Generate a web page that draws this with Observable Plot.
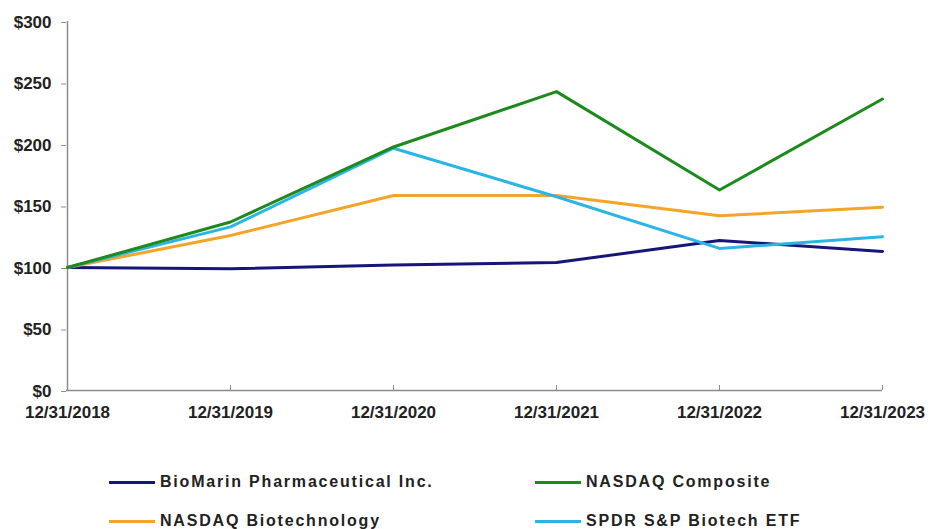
<!DOCTYPE html>
<html>
<head>
<meta charset="utf-8">
<script src="https://cdn.jsdelivr.net/npm/d3@7"></script>
<script src="https://cdn.jsdelivr.net/npm/@observablehq/plot@0.6"></script>
<style>
  html, body { margin: 0; padding: 0; background: #fff; }
  body { width: 930px; height: 529px; overflow: hidden; font-family: "Liberation Sans", Arial, sans-serif; position: relative; }
  #chart svg { display: block; }
  .legend { position: absolute; left: 0; top: 0; width: 930px; }
  .item { position: absolute; display: flex; align-items: center; font-weight: bold; font-size: 16px; letter-spacing: 1.8px; color: #222; white-space: nowrap; }
  .sw { width: 46px; height: 3px; margin-right: 5px; }
</style>
</head>
<body>
<div id="chart"></div>
<div class="legend" id="legend"></div>
<script>
const dates = ["12/31/2018", "12/31/2019", "12/31/2020", "12/31/2021", "12/31/2022", "12/31/2023"];
const seriesNames = ["BioMarin Pharmaceutical Inc.", "NASDAQ Composite", "NASDAQ Biotechnology", "SPDR S&P Biotech ETF"];
const colors = ["#16167a", "#1c8a1c", "#f5a42a", "#2bb5e6"];
const biomarin = [100, 99, 102, 104, 122, 113];
const nasdaqComposite = [100, 137, 198, 243, 163, 237];
const nasdaqBiotech = [100, 126, 158.5, 158.5, 142, 149];
const spdrBiotech = [100, 133, 197, 157.5, 115.5, 125];
const yTicks = [0, 50, 100, 150, 200, 250, 300];

const allValues = [biomarin, nasdaqComposite, nasdaqBiotech, spdrBiotech];
const drawOrder = [0, 2, 3, 1];
const data = [];
drawOrder.forEach(i => {
  dates.forEach((d, j) => data.push({date: d, value: allValues[i][j], series: seriesNames[i]}));
});

const chart = Plot.plot({
  width: 930,
  height: 430,
  marginLeft: 66,
  marginRight: 48,
  marginTop: 21,
  marginBottom: 40,
  style: {fontFamily: "'Liberation Sans', Arial, sans-serif", fontSize: "17px", fontWeight: "bold", color: "#222", background: "#fff", overflow: "visible"},
  x: {type: "point", domain: dates, padding: 0},
  y: {domain: [0, 300]},
  color: {domain: seriesNames, range: colors},
  marks: [
    Plot.ruleY([0], {stroke: "#8c8c8c", strokeWidth: 1.5}),
    Plot.ruleX([dates[0]], {stroke: "#8c8c8c", strokeWidth: 1.5}),
    Plot.axisY({ticks: yTicks, tickSize: 5, stroke: "#8c8c8c", tickFormat: d => "$" + d, tickPadding: 10, label: null, fill: "#222", fontWeight: "bold", dy: 1}),
    Plot.axisX({tickSize: 5, dy: -5, stroke: "#8c8c8c", text: null, label: null}),
    Plot.axisX({tickSize: 0, tickPadding: 15, label: null, fill: "#222", fontWeight: "bold"}),
    Plot.line(data, {x: "date", y: "value", z: "series", stroke: "series", strokeWidth: 3})
  ]
});
document.getElementById("chart").appendChild(chart);

const legend = document.getElementById("legend");
const pos = [[109, 482], [535, 482], [109, 521], [535, 521]];
seriesNames.forEach((name, k) => {
  const el = document.createElement("div");
  el.className = "item";
  el.style.left = pos[k][0] + "px";
  el.style.top = (pos[k][1] - 10) + "px";
  el.style.height = "20px";
  el.innerHTML = `<div class="sw" style="background:${colors[k]}"></div><span>${name}</span>`;
  legend.appendChild(el);
});
</script>
</body>
</html>
